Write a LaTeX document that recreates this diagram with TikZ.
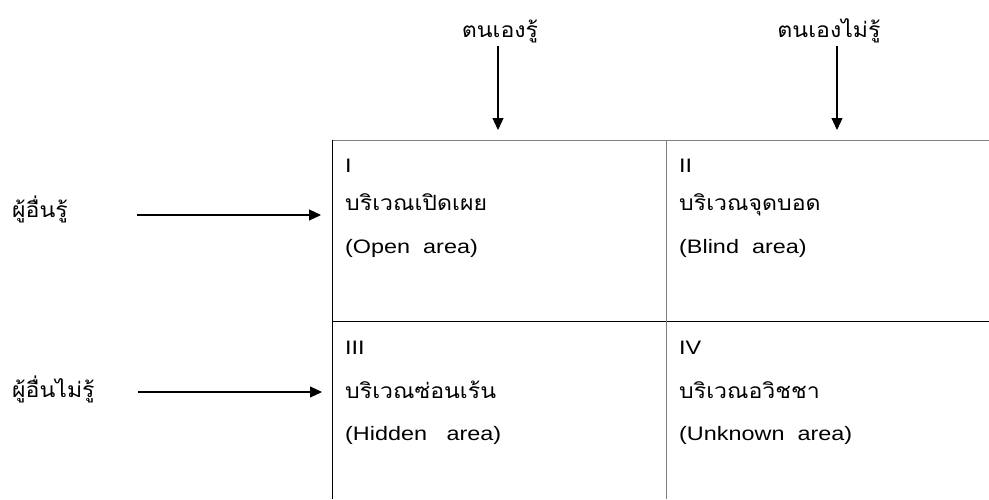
\documentclass[tikz,border=0pt]{standalone}
\usepackage{fontspec}
\setmainfont[FakeStretch=1.2]{Liberation Sans}
\newfontfamily\thaifont[Script=Thai, FakeStretch=1.1]{Loma}
\usetikzlibrary{arrows.meta}

\begin{document}
\begin{tikzpicture}[x=1pt, y=-1pt, every node/.style={inner sep=0pt, anchor=base west},
    thai/.style={font=\thaifont\fontsize{21}{25}\selectfont},
    latin/.style={font=\fontsize{19.5}{23}\selectfont},
    arr/.style={-{Triangle[length=12pt, width=11pt]}, line width=1.1pt}]
    \useasboundingbox (0,0) rectangle (989,499);
    % grid
    \draw[gray, line width=1pt] (332,140) -- (989,140);
    \draw[line width=1pt] (332,321) -- (989,321);
    \draw[line width=1pt] (332,140) -- (332,499);
    \draw[gray, line width=1pt] (666,140) -- (666,499);
    % top labels
    \node[thai, anchor=base] (selfyes) at (500,37) {ตนเองรู้};
    \node[thai, anchor=base] (selfno) at (829,37) {ตนเองไม่รู้};
    \coordinate (tipyes) at (498,130);
    \coordinate (tipno) at (837,130);
    \draw[arr] (tipyes |- selfyes.south) ++(0,3) -- (tipyes);
    \draw[arr] (tipno |- selfno.south) ++(0,3) -- (tipno);
    % left labels
    \node[thai] (othersyes) at (12,217) {ผู้อื่นรู้};
    \node[thai] (othersno) at (12,397) {ผู้อื่นไม่รู้};
    \coordinate (startyes) at (137,215);
    \coordinate (startno) at (138,392);
    \draw[arr] (startyes) -- (321,215);
    \draw[arr] (startno) -- (322,392);
    % cells
    \node[latin] (numI) at (345,172) {I};
    \node[thai] (openth) at (345,210) {บริเวณเปิดเผย};
    \node[latin] (open) at (345,253) {(Open\ \ area)};
    \node[latin] (numII) at (679,172) {II};
    \node[thai] (blindth) at (679,210) {บริเวณจุดบอด};
    \node[latin] (blind) at (679,253) {(Blind\ \ area)};
    \node[latin] (numIII) at (345,354) {III};
    \node[thai] (hiddenth) at (345,398) {บริเวณซ่อนเร้น};
    \node[latin] (hidden) at (345,440) {(Hidden\ \ \ area)};
    \node[latin] (numIV) at (679,354) {IV};
    \node[thai] (unknownth) at (679,398) {บริเวณอวิชชา};
    \node[latin] (unknown) at (679,440) {(Unknown\ \ area)};
\end{tikzpicture}
\end{document}
